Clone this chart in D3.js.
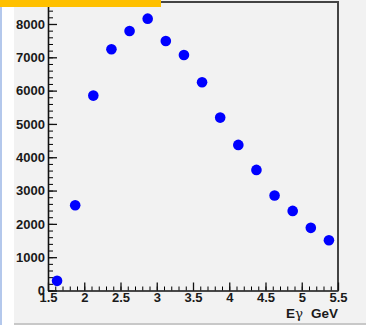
<!DOCTYPE html>
<html>
<head>
<meta charset="utf-8">
<script src="https://cdn.jsdelivr.net/npm/d3@7"></script>
<style>
  body { margin: 0; background: #fff; }
  svg text { font-family: "Liberation Sans", Arial, sans-serif; font-weight: bold; }
</style>
</head>
<body>
<div id="chart"></div>
<script>
// photon energy bins (GeV) and counts
const energy = [1.625, 1.875, 2.125, 2.375, 2.625, 2.875, 3.125, 3.375,
                3.625, 3.875, 4.125, 4.375, 4.625, 4.875, 5.125, 5.375];
const counts = [290, 2560, 5850, 7240, 7790, 8160, 7490, 7070,
                6250, 5190, 4370, 3620, 2850, 2390, 1880, 1510];
const xTicks = [1.5, 2, 2.5, 3, 3.5, 4, 4.5, 5, 5.5];
const yTicks = [0, 1000, 2000, 3000, 4000, 5000, 6000, 7000, 8000];

const W = 366, H = 325;
const frame = {left: 48, right: 338, top: 2, bottom: 290.5};

const svg = d3.select("#chart")
  .append("svg")
    .attr("width", W)
    .attr("height", H);

// page background pieces
svg.append("rect").attr("width", W).attr("height", H).attr("fill", "#f2f2f2");
svg.append("rect").attr("x", 0).attr("y", 0).attr("width", 14).attr("height", H).attr("fill", "#ffffff");
svg.append("rect").attr("x", 0).attr("y", 0).attr("width", 2).attr("height", H).attr("fill", "#b4c8ec");
svg.append("rect").attr("x", 14).attr("y", 323).attr("width", W - 14).attr("height", 2).attr("fill", "#c8c8c8");

const x = d3.scaleLinear()
  .domain([1.5, 5.5])
  .range([frame.left, frame.right]);

const y = d3.scaleLinear()
  .domain([0, 8660])
  .range([frame.bottom, frame.top]);

// frame top + right
svg.append("path")
  .attr("d", `M${frame.left},${frame.top}H${frame.right}V${frame.bottom}`)
  .attr("fill", "none")
  .attr("stroke", "#444")
  .attr("stroke-width", 2);

// minor ticks
svg.append("g")
  .attr("transform", `translate(${frame.left},0)`)
  .call(d3.axisLeft(y).tickValues(d3.range(0, 8601, 200)).tickSizeInner(-5).tickSizeOuter(0).tickFormat(""))
  .call(g => g.select(".domain").remove());
svg.append("g")
  .attr("transform", `translate(0,${frame.bottom})`)
  .call(d3.axisBottom(x).tickValues(d3.range(15, 56).map(d => d / 10)).tickSizeInner(-4).tickSizeOuter(0).tickFormat(""))
  .call(g => g.select(".domain").remove());

// Y axis
const yAxis = svg.append("g")
  .attr("transform", `translate(${frame.left},0)`)
  .call(d3.axisLeft(y).tickValues(yTicks).tickSizeInner(-9).tickSizeOuter(0).tickPadding(3).tickFormat(d3.format("d")));

// X axis
const xAxis = svg.append("g")
  .attr("transform", `translate(0,${frame.bottom})`)
  .call(d3.axisBottom(x).tickValues(xTicks).tickSizeInner(-8).tickSizeOuter(0).tickPadding(2).tickFormat(d => d));

[yAxis, xAxis].forEach(g => {
  g.selectAll("line").attr("stroke", "#111").attr("stroke-width", 1.3);
  g.select(".domain").attr("stroke", "#111").attr("stroke-width", 1.6);
  g.selectAll("text").attr("fill", "#1a1a1a").style("font-size", "13px");
});

// x title
const title = svg.append("text")
  .attr("x", 286)
  .attr("y", 318)
  .style("font-size", "13.5px")
  .attr("fill", "#1a1a1a");
title.append("tspan").text("E");
title.append("tspan")
  .style("font-weight", "normal")
  .style("font-family", "'DejaVu Serif', serif")
  .text("γ");
title.append("tspan").attr("dx", 8).text("GeV");

// data points
svg.append("g")
  .selectAll("circle")
  .data(energy)
  .join("circle")
    .attr("cx", d => x(d))
    .attr("cy", (d, i) => y(counts[i]))
    .attr("r", 5.3)
    .attr("fill", "#0000ff");

// orange header bar
svg.append("rect").attr("x", 0).attr("y", 0).attr("width", 161).attr("height", 7).attr("fill", "#ffc000");
</script>
</body>
</html>
